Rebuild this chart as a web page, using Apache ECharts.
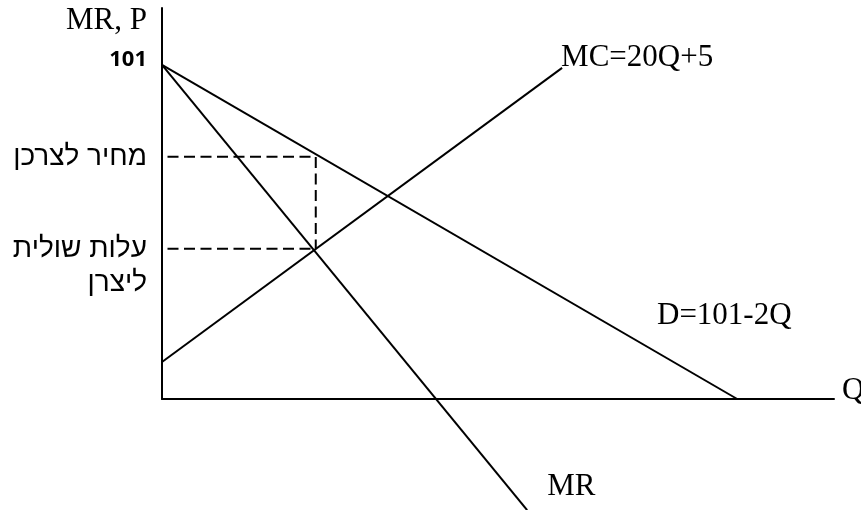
<!DOCTYPE html>
<html>
<head>
<meta charset="utf-8">
<script src="https://cdn.jsdelivr.net/npm/echarts@6/dist/echarts.min.js"></script>
<style>
  html, body { margin: 0; padding: 0; background: #fff; }
  #chart { width: 861px; height: 510px; }
</style>
</head>
<body>
<div id="chart"></div>
<script>
// curves (Q, P)
var demand = [[0, 101], [50.5, 0]];
var marginalRevenue = [[0, 101], [32.06, -33.6]];
var marginalCost = [[0, 11.2], [35.13, 100.1]];
// dashed guides: consumer price and marginal cost at the chosen quantity
var guideQ = 13.5;
var consumerPrice = 73.2;
var producerCost = 45.4;
var priceGuide = [[0, consumerPrice], [guideQ, consumerPrice], [guideQ, producerCost]];
var costGuide = [[0, producerCost], [guideQ, producerCost]];

var yTicks = [101, consumerPrice, producerCost];
var yTickText = ['{num|101}', '{heb|מחיר לצרכן}', '{heb| }\n{heb|עלות שולית}\n{heb|ליצרן}'];

var serif = "'Liberation Serif', 'Times New Roman', serif";

var chart = echarts.init(document.getElementById('chart'));

function lineSeries(name, data, extra) {
  var s = {
    name: name,
    type: 'line',
    data: data,
    symbol: 'none',
    silent: true,
    animation: false,
    lineStyle: { color: '#000', width: 2 }
  };
  return Object.assign(s, extra || {});
}

var dashed = { color: '#000', width: 2, type: [11, 5.5], dashOffset: 11 };

chart.setOption({
  animation: false,
  grid: { left: 162, right: 27, top: 8, bottom: 111, containLabel: false, outerBoundsMode: 'none' },
  xAxis: {
    type: 'value',
    min: 0,
    max: 59,
    axisLine: { show: true, lineStyle: { color: '#000', width: 2 } },
    axisTick: { show: false },
    axisLabel: { show: false },
    splitLine: { show: false }
  },
  yAxis: {
    type: 'value',
    min: 0,
    max: 118.2,
    axisLine: { show: true, lineStyle: { color: '#000', width: 2 } },
    axisTick: { show: false },
    splitLine: { show: false },
    axisLabel: {
      show: true,
      customValues: yTicks,
      margin: 15,
      color: '#000',
      formatter: function (val) {
        var i = yTicks.indexOf(val);
        return i < 0 ? '' : yTickText[i];
      },
      rich: {
        num: { fontFamily: "'Noto Sans', sans-serif", fontWeight: 'bold', fontSize: 22, color: '#000', padding: [0, 0, 10, 0] },
        heb: { fontFamily: "'Liberation Sans', 'DejaVu Sans', sans-serif", fontSize: 28, lineHeight: 34, color: '#000', align: 'right' }
      }
    }
  },
  graphic: [
    {
      type: 'text',
      x: 147,
      y: 21,
      style: { text: 'MR, P', font: '31px ' + serif, fill: '#000', align: 'right', verticalAlign: 'middle' }
    },
    {
      type: 'text',
      x: 842,
      y: 391,
      style: { text: 'Q', font: '31px ' + serif, fill: '#000', align: 'left', verticalAlign: 'middle' }
    },
    {
      type: 'text',
      x: 657,
      y: 316,
      style: { text: 'D=101-2Q', font: '31px ' + serif, fill: '#000', align: 'left', verticalAlign: 'middle' }
    }
  ],
  series: [
    lineSeries('D', demand),
    lineSeries('MR', marginalRevenue, {
      clip: false,
      endLabel: {
        show: true,
        formatter: 'MR',
        fontFamily: serif,
        fontSize: 31,
        color: '#000',
        offset: [12, -23]
      }
    }),
    lineSeries('MC', marginalCost, {
      endLabel: {
        show: true,
        formatter: 'MC=20Q+5',
        fontFamily: serif,
        fontSize: 31,
        color: '#000',
        offset: [-9, -10]
      }
    }),
    lineSeries('price guide', priceGuide, { lineStyle: dashed }),
    lineSeries('cost guide', costGuide, { lineStyle: dashed })
  ]
});
</script>
</body>
</html>
